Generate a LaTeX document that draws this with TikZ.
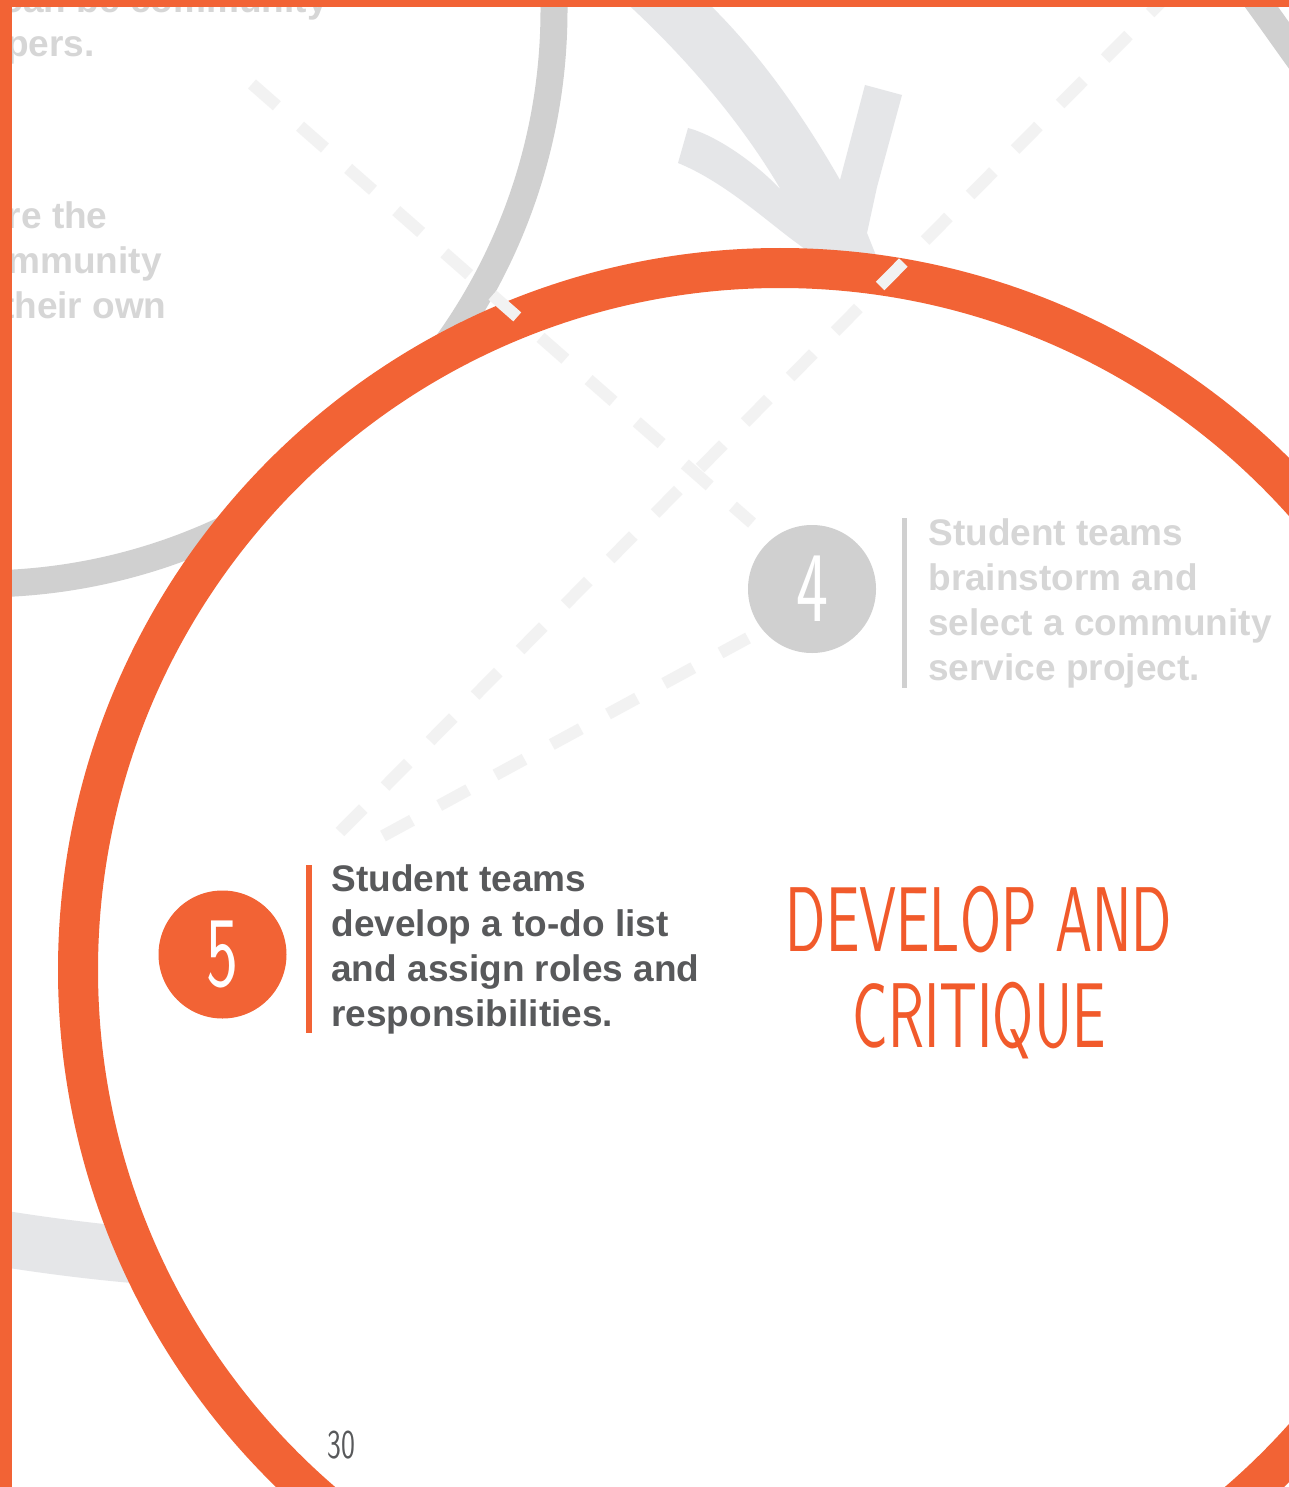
\documentclass[tikz,border=0pt]{standalone}
\usepackage{fontspec}
\setmainfont{Liberation Sans}
\definecolor{orng}{HTML}{F26335}
\definecolor{ttl}{HTML}{F15A2B}
\definecolor{ringgray}{HTML}{D0D0D0}
\definecolor{arrowgray}{HTML}{E5E6E8}
\definecolor{dashgray}{HTML}{F2F2F2}
\definecolor{fadetxt}{HTML}{D6D6D6}
\definecolor{darktxt}{HTML}{58595B}
\newcommand{\stepnum}[1]{\scalebox{0.68}[1]{\sffamily\fontsize{50pt}{50pt}\selectfont #1}}
\newcommand{\ttlfont}[1]{\scalebox{0.645}[1]{\sffamily\fontsize{46pt}{48pt}\selectfont #1}}
\begin{document}
\begin{tikzpicture}[x=0.5pt,y=-0.5pt,
  body/.style={font=\bfseries\fontsize{18.5pt}{22.5pt}\selectfont, inner sep=0, anchor=base west},
  fadebody/.style={body, text=fadetxt},
  darkbody/.style={body, text=darktxt},
  fragment/.style={font=\bfseries\fontsize{18.5pt}{22.5pt}\selectfont, inner sep=0, anchor=base east, text=fadetxt},
  stepcircle/.style={circle, minimum size=64pt, inner sep=0, text=white},
  dashline/.style={dashgray, line width=6pt, dash pattern=on 16.5pt off 15.5pt},
  titletext/.style={inner sep=0, anchor=base, text=ttl},
  bigring/.style={orng, line width=20pt, fill=white},
  grayring/.style={ringgray, line width=13.5pt}]
\useasboundingbox (0,0) rectangle (1289,1487);
\fill[white] (0,0) rectangle (1289,1487);

% faded text of the previous step (cut by the page edge)
\node[fragment] (f1) at (328,13) {s can be community};
\node[fragment] (f2) at (95,57) {pers.};
\node[fragment] (f3) at (108,228) {re the};
\node[fragment] (f4) at (162,273) {mmunity};
\node[fragment] (f5) at (167,318) {their own};

% background rings and arrow
\draw[grayring] (-20,10) circle[radius=287pt];
\draw[grayring] (1244,-17) .. controls (1275,25) and (1300,62) .. (1326,96);
\draw[arrowgray, line width=28pt] (-20,1235) .. controls (40,1245) and (100,1253) .. (170,1258);
\fill[arrowgray] (612,-10) .. controls (680,50) and (740,120) .. (781,190)
  .. controls (755,162) and (715,135) .. (688,128)
  -- (678,163)
  .. controls (720,180) and (760,215) .. (790,238)
  -- (813,255) -- (830,270) -- (880,270)
  -- (875,253) -- (867,233) -- (877,187) -- (902,95) -- (865,85) -- (840,180)
  .. controls (800,110) and (750,40) .. (694,-10) -- cycle;

% main orange ring
\draw[bigring] (780,970) circle[radius=351pt];

% dashed connectors
\coordinate (d1a) at (252,84);
\coordinate (d1b) at (752,523);
\coordinate (d2a) at (340,832);
\coordinate (d2b) at (1173,-10);
\coordinate (d3a) at (383,836);
\coordinate (d3b) at (748,638);
\draw[dashline] (d1a) -- (d1b);
\draw[dashline] (d2a) -- (d2b);
\draw[dashline] (d3a) -- (d3b);

% step 4
\node[stepcircle, fill=ringgray] (c4) at (812,589) {\stepnum{4}};
\draw[ringgray, line width=2.5pt] (904,518) -- (904,688);
\node[fadebody] (t4a) at (928,545) {Student teams};
\node[fadebody] (t4b) at (928,590) {brainstorm and};
\node[fadebody] (t4c) at (928,635) {select a community};
\node[fadebody] (t4d) at (928,680) {service project.};

% step 5
\node[stepcircle, fill=orng] (c5) at (222.5,954.5) {\stepnum{5}};
\draw[orng, line width=3pt] (308.5,865) -- (308.5,1033);
\node[darkbody] (t5a) at (331,891) {Student teams};
\node[darkbody] (t5b) at (331,936) {develop a to-do list};
\node[darkbody] (t5c) at (331,981) {and assign roles and};
\node[darkbody] (t5d) at (331,1026) {responsibilities.};

% title
\node[titletext] (ti1) at (979,951) {\ttlfont{DEVELOP AND}};
\node[titletext] (ti2) at (979,1047) {\ttlfont{CRITIQUE}};

% page number
\node[inner sep=0, anchor=base west, text=darktxt] (pg) at (327,1458)
  {\scalebox{0.72}[1]{\sffamily\fontsize{20.5pt}{21pt}\selectfont 30}};

% page border
\fill[orng] (0,0) rectangle (12,1487);
\fill[orng] (0,0) rectangle (1289,7);
\end{tikzpicture}
\end{document}
